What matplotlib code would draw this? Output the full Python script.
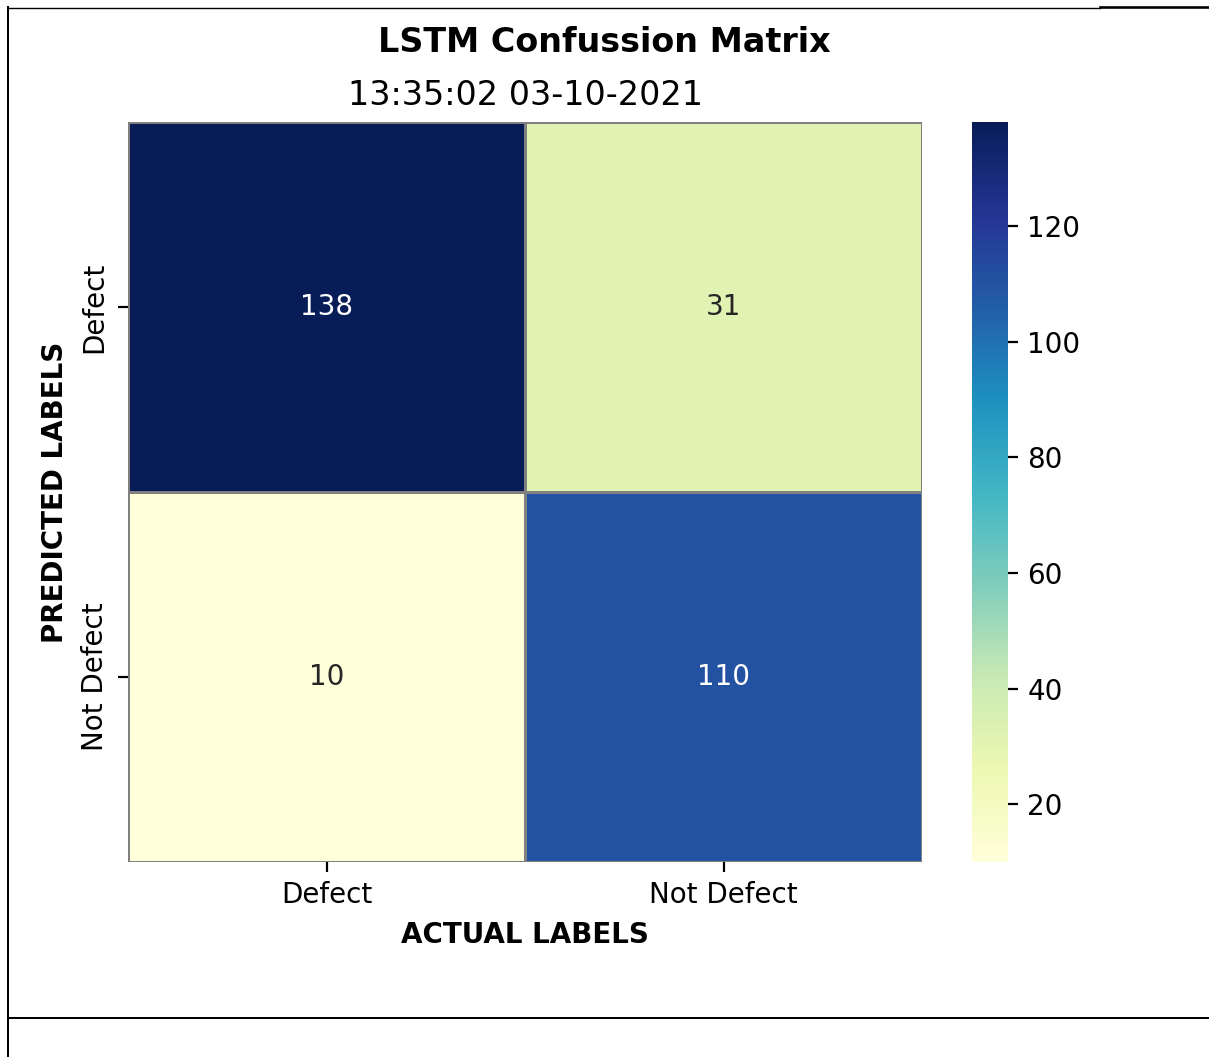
import matplotlib
matplotlib.use("Agg")
import matplotlib.pyplot as plt
from matplotlib.lines import Line2D
import numpy as np
import seaborn as sns

# confusion matrix values (rows = predicted, cols = actual)
labels = ["Defect", "Not Defect"]
row_defect = [138, 31]
row_not_defect = [10, 110]
cm = np.array([row_defect, row_not_defect])

W, H = 1209, 1057
DPI = 200
fig = plt.figure(figsize=(W / DPI, H / DPI), dpi=DPI)

ax = fig.add_axes([128 / W, 1 - 862 / H, 794 / W, 740 / H])
cax = fig.add_axes([972 / W, 1 - 862 / H, 36 / W, 740 / H])

sns.heatmap(cm, annot=True, fmt="d", cmap="YlGnBu", linewidths=0.5,
            linecolor="gray", xticklabels=labels, yticklabels=labels,
            ax=ax, cbar_ax=cax)

ax.set_xlabel("ACTUAL LABELS", fontweight="bold")
ax.set_ylabel("PREDICTED LABELS", fontweight="bold")
ax.set_yticklabels(labels, rotation=90, va="center")
ax.set_title("13:35:02 03-10-2021")
fig.suptitle("LSTM Confussion Matrix", fontweight="bold", y=1 - 43 / H, va="center")

# document table borders around the picture
lw = 2 * 72 / DPI
fig.add_artist(Line2D([8 / W, 8 / W], [0, 1 - 7 / H], color="black", lw=lw))
fig.add_artist(Line2D([8 / W, 1100 / W], [1 - 7.5 / H, 1 - 7.5 / H], color="black", lw=lw * 0.7))
fig.add_artist(Line2D([1100 / W, 1], [1 - 7 / H, 1 - 7 / H], color="black", lw=lw * 1.3))
fig.add_artist(Line2D([8 / W, 1], [1 - 1018 / H, 1 - 1018 / H], color="black", lw=lw))

fig.savefig("out.png", dpi=DPI)
